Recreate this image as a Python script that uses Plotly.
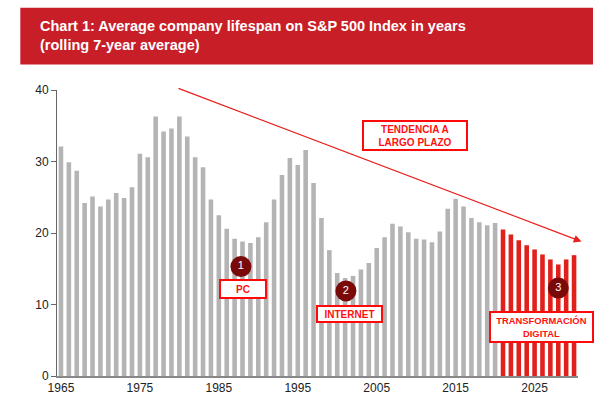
import plotly.graph_objects as go

years = list(range(1965, 2031))
lifespan = [32.1, 29.9, 28.7, 24.2, 25.1, 23.7, 24.7, 25.6, 24.9, 26.4,
            31.1, 30.6, 36.3, 34.2, 34.6, 36.3, 33.5, 30.6, 29.2, 24.7,
            22.5, 20.6, 19.2, 18.8, 18.6, 19.4, 21.5, 24.7, 28.1, 30.5,
            29.5, 31.6, 27.0, 22.1, 17.6, 14.4, 13.7, 14.0, 14.9, 15.8,
            17.9, 19.4, 21.3, 20.9, 20.1, 19.2, 19.1, 18.7, 20.2, 23.4,
            24.8, 23.7, 22.1, 21.5, 21.1, 21.4,
            20.5, 19.8, 19.0, 18.3, 17.7, 17.0, 16.3, 15.6, 16.3, 16.9]
forecast_start = 2021

gray = "#B4B4B4"
red = "#E0201B"
colors = [red if y >= forecast_start else gray for y in years]

title_lines = ["Chart 1: Average company lifespan on S&P 500 Index in years",
               "(rolling 7-year average)"]
tick_years = [1965, 1975, 1985, 1995, 2005, 2015, 2025]

milestone_labels = ["1", "2", "3"]
milestone_x = [1987.8, 2001.1, 2028.0]
milestone_y = [15.3, 11.9, 12.3]

box_texts = ["TENDENCIA A<br>LARGO PLAZO", "PC", "INTERNET", "TRANSFORMACIÓN<br>DIGITAL"]
box_x = [2009.85, 1988.1, 2001.6, 2025.9]
box_y = [33.7, 12.2, 8.7, 6.8]
box_w = [100, 42, 61, 99]
box_h = [25, 14, 12, 26]
box_fs = [10, 10, 10, 9.4]

fig = go.Figure()
fig.add_trace(go.Bar(x=years, y=lifespan, marker=dict(color=colors, line=dict(width=0)),
                     width=0.58, showlegend=False, hoverinfo="x+y"))
fig.add_trace(go.Scatter(x=milestone_x, y=milestone_y, mode="markers+text",
                         text=milestone_labels, textposition="middle center",
                         textfont=dict(color="white", size=11, family="Liberation Sans"),
                         marker=dict(size=21, color="#7A0A0A", line=dict(width=0)),
                         showlegend=False, hoverinfo="skip", cliponaxis=False))

# trend arrow
fig.add_annotation(x=2030.95, y=18.8, ax=1979.7, ay=40.3, xref="x", yref="y",
                   axref="x", ayref="y", showarrow=True, arrowhead=2, arrowsize=1.2,
                   arrowwidth=1.3, arrowcolor="#E8201E", text="")

for t, x, y, w, h, fs in zip(box_texts, box_x, box_y, box_w, box_h, box_fs):
    fig.add_annotation(x=x, y=y, xref="x", yref="y", text="<b>" + t + "</b>",
                       showarrow=False, width=w, height=h, bgcolor="white",
                       bordercolor="#FF0A0A", borderwidth=2, borderpad=1,
                       font=dict(color="#FF1010", size=fs, family="Liberation Sans"),
                       align="center", valign="middle")

# header band
fig.add_shape(type="rect", xref="paper", yref="paper", x0=-0.0704, x1=1.0288,
              y0=1.0895, y1=1.288, fillcolor="#C81E28", line=dict(width=0), layer="above")
fig.add_annotation(xref="paper", yref="paper", x=-0.036, y=1.189, xanchor="left",
                   yanchor="middle", showarrow=False, align="left",
                   text="<b>" + "<br>".join(title_lines) + "</b>",
                   font=dict(color="white", size=14.5, family="Liberation Sans Narrow, Liberation Sans"))

fig.update_layout(
    width=602, height=407,
    margin=dict(l=57, r=24, t=90, b=29),
    paper_bgcolor="white", plot_bgcolor="white",
    bargap=0.4,
    font=dict(family="Liberation Sans", size=12, color="#222222"),
    xaxis=dict(range=[1964.5, 2030.5], tickvals=tick_years, ticks="", showgrid=False,
               showline=True, linecolor="#888888", linewidth=1.5, zeroline=False,
               tickfont=dict(size=12, color="#222222")),
    yaxis=dict(range=[0, 40], tickvals=[0, 10, 20, 30, 40], ticks="outside", ticklen=5,
               tickcolor="#666666", showgrid=False, showline=True, linecolor="#666666",
               linewidth=1, zeroline=False, tickfont=dict(size=12, color="#222222")),
)

fig.write_html("out.html", config={"displayModeBar": False},
               post_script="document.body.style.margin='0';document.body.style.overflow='hidden';")
